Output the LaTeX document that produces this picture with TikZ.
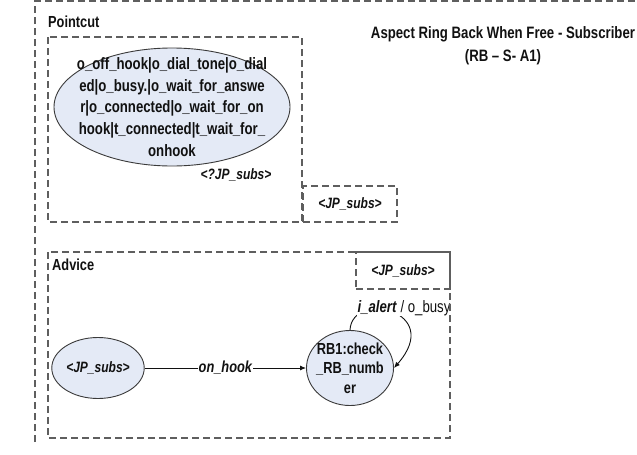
\documentclass[tikz,border=0pt]{standalone}
\usepackage{fontspec}
\setmainfont{Liberation Sans}[FakeStretch=0.8]
\usetikzlibrary{shapes.geometric,arrows.meta,positioning}
\definecolor{rbink}{HTML}{111111}
\definecolor{rbdash}{HTML}{5E5E5E}
\definecolor{rbfill}{HTML}{E4EAF6}
\definecolor{rbedge}{HTML}{3A3A3A}
\tikzset{
  dashbox/.style={draw=rbdash,line width=1.3pt,dash pattern=on 7pt off 4pt},
  jpstate/.style={ellipse,draw=rbedge,line width=0.9pt,fill=rbfill,inner sep=0pt},
  jpbox/.style={dashbox,rectangle,minimum width=94pt,minimum height=36pt,
                font=\fontsize{15}{17}\selectfont\bfseries\itshape,text=rbink},
  lbl/.style={font=\fontsize{16}{18}\selectfont\bfseries,text=rbink,inner sep=1pt},
  jptext/.style={font=\fontsize{15}{17}\selectfont\bfseries\itshape,text=rbink,inner sep=1pt},
  trans/.style={-{Latex[length=6pt,width=5pt]},line width=0.9pt,draw=rbink},
}

\begin{document}
\begin{tikzpicture}[x=1pt,y=-1pt]
  \useasboundingbox (0,0) rectangle (637,455);
  \draw[dashbox] (35,442) -- (35,1) -- (637,1);
  \node[lbl,anchor=west] (pclbl) at (47,22) {Pointcut};
  \node[lbl,align=center,font=\fontsize{16.5}{23}\selectfont\bfseries] (title) at (503,46)
    {Aspect Ring Back When Free - Subscriber\\(RB -- S- A1)};
  \node[jpstate,minimum width=236pt,minimum height=118pt] (states) at (172,107) {};
  \node[lbl,align=center,font=\fontsize{16.5}{21.7}\selectfont\bfseries] (statestxt) at (states.center)
    {o\_off\_hook|o\_dial\_tone|o\_dial\\ed|o\_busy.|o\_wait\_for\_answe\\r|o\_connected|o\_wait\_for\_on\\hook|t\_connected|t\_wait\_for\_\\onhook};
  \node[jptext] (pcsubs) at (236,175) {<?JP\_subs>};
  \draw[dashbox] (48,37) rectangle (302,222);
  \node[jpbox] (pcjp) at (350,204) {<JP\_subs>};

  \node[lbl,anchor=west] (advlbl) at (51,265) {Advice};
  \node[jpstate,minimum width=87pt,minimum height=61pt,jptext] (subs) at (98,368) {<JP\_subs>};
  \node[jpstate,minimum width=87pt,minimum height=75pt] (check) at (350,368) {};
  \node[lbl,align=center,font=\fontsize{16}{19.5}\selectfont\bfseries] (checktxt) at (check.center)
    {RB1:check\\\_RB\_numb\\er};
  \draw[trans] (subs) -- node[jptext,fill=white,font=\fontsize{16}{18}\selectfont\bfseries\itshape] (hook) {on\_hook} (check);
  \draw[trans] (check.north) .. controls (352,290) and (445,310) .. (check.east);
  \node[fill=white,inner sep=0.5pt,font=\fontsize{16.5}{18}\selectfont,text=rbink] (alert) at (404,308)
    {\textbf{\textit{i\_alert}} / o\_busy};
  \draw[dashbox] (48,252) rectangle (450,438);
  \node[jpbox,minimum height=37pt] (advjp) at (403,270.5) {<JP\_subs>};
\end{tikzpicture}
\end{document}
